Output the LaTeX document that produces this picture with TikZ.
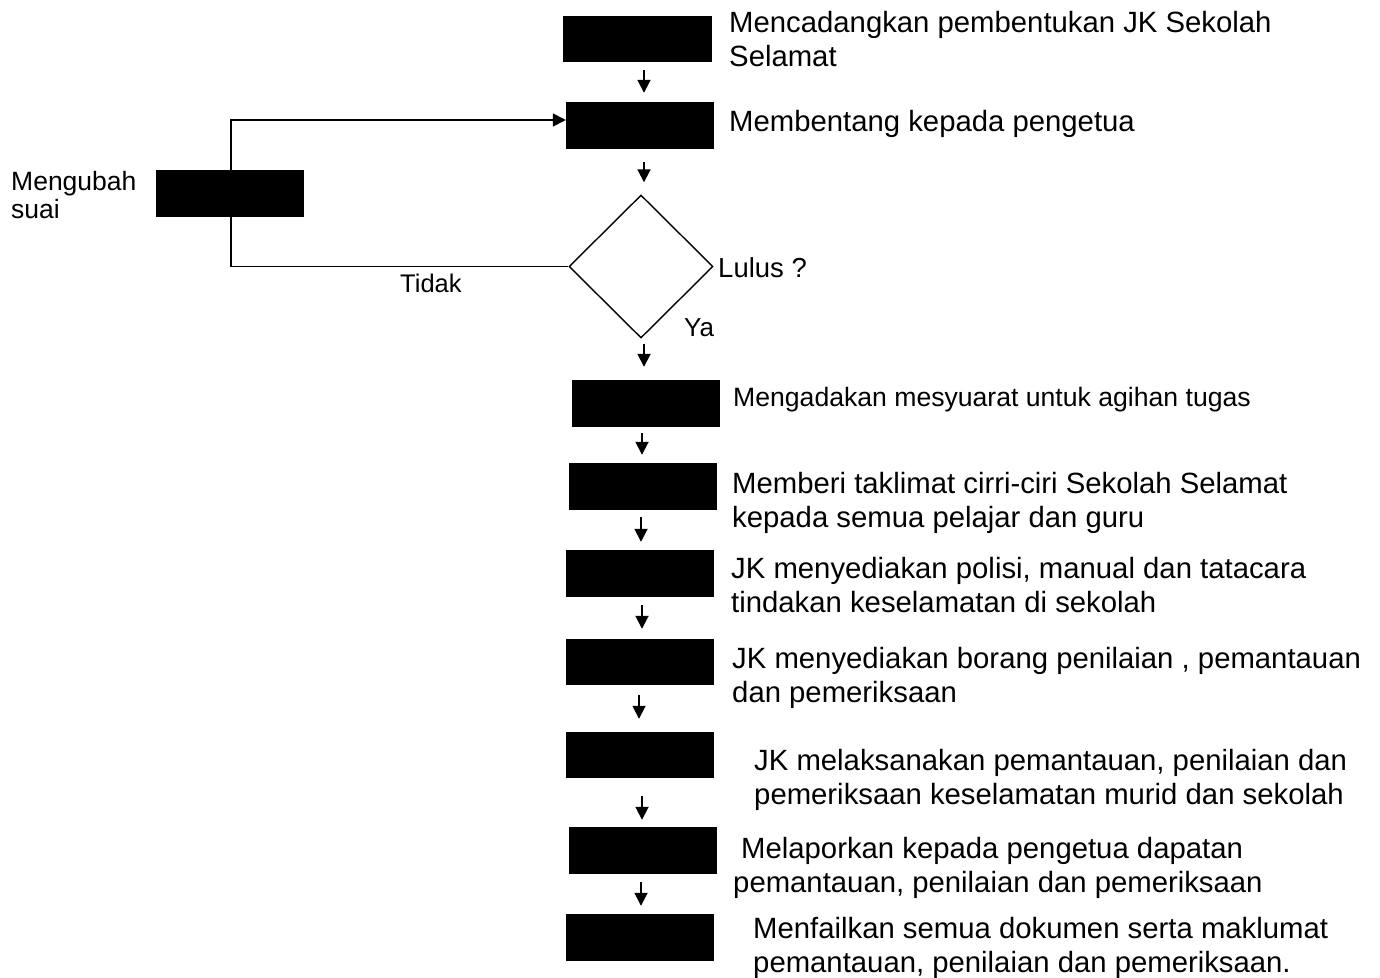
\documentclass[tikz,border=0pt]{standalone}
\usepackage{fontspec}
\setmainfont{Liberation Sans}
\usetikzlibrary{arrows.meta,shapes.geometric,calc}
\newcommand\flowarrow[5]{\draw[arr] ([shift={(#3,#4)}]#1.south) -- ([shift={(#3,-#5)}]#1.south |- #2.north);}
\begin{document}
\begin{tikzpicture}[x=1pt,y=-1pt,
  blk/.style={fill=black,draw=none,minimum width=148pt,minimum height=47pt,inner sep=0pt},
  lbl/.style={anchor=north west,inner sep=0pt,align=left,font=\fontsize{29.3}{33.5}\selectfont},
  one/.style={anchor=base west,inner sep=0pt,font=\fontsize{29.3}{33.5}\selectfont},
  arr/.style={line width=1.8pt,-{Triangle[length=13pt,width=13pt]}},
  ln/.style={line width=1.4pt}]
\useasboundingbox (0,0) rectangle (1380,977);
% boxes
\node[blk,minimum width=149pt,minimum height=46pt] (b1) at (637.5,39) {};
\node[blk] (b2) at (640,125.5) {};
\node[draw,diamond,line width=1.4pt,minimum width=144pt,minimum height=143pt,inner sep=0pt] (dia) at (641,266.5) {};
\node[blk] (b3) at (646,403.5) {};
\node[blk] (b4) at (642.5,486.5) {};
\node[blk] (b5) at (640,573.5) {};
\node[blk,minimum height=46pt] (b6) at (640,662) {};
\node[blk,minimum height=46pt] (b7) at (640,755) {};
\node[blk] (b8) at (642.5,850.5) {};
\node[blk] (b9) at (640,937.5) {};
\node[blk] (bm) at (229.5,193.5) {};
% flow arrows
\flowarrow{b1}{b2}{6.5}{8}{9}
\flowarrow{b2}{dia}{4}{13}{12}
\flowarrow{dia}{b3}{3}{5}{13}
\flowarrow{b3}{b4}{-4}{6}{8}
\flowarrow{b4}{b5}{-1.5}{7}{8}
\flowarrow{b5}{b6}{2}{8}{10}
\flowarrow{b6}{b7}{-1}{10}{13}
\flowarrow{b7}{b8}{2}{18}{7}
\flowarrow{b8}{b9}{-1.5}{8}{8}
% loop back
\coordinate (lt) at (231,120);
\draw[arr,line width=1.4pt] (dia.west) -| (lt) -- (lt -| b2.west);
% labels
\node[lbl] (t1) at (729,11.5) {Mencadangkan pembentukan JK Sekolah\\Selamat};
\node[one] (t2) at (729,131.5) {Membentang kepada pengetua};
\node[one,font=\fontsize{27.5}{30}\selectfont] (tl) at (718,277) {Lulus ?};
\node[one,font=\fontsize{26}{30}\selectfont] (ty) at (684,336) {Ya};
\node[one,font=\fontsize{25.5}{30}\selectfont] (tt) at (400,292.5) {Tidak};
\node[one,font=\fontsize{26.6}{30}\selectfont] (t3) at (733,406.5) {Mengadakan mesyuarat untuk agihan tugas};
\node[lbl] (t4) at (732,472.5) {Memberi taklimat cirri-ciri Sekolah Selamat\\kepada semua pelajar dan guru};
\node[lbl] (t5) at (731,557.5) {JK menyediakan polisi, manual dan tatacara\\tindakan keselamatan di sekolah};
\node[lbl] (t6) at (732,647.5) {JK menyediakan borang penilaian , pemantauan\\dan pemeriksaan};
\node[lbl] (t7) at (754,749.5) {JK melaksanakan pemantauan, penilaian dan\\pemeriksaan keselamatan murid dan sekolah};
\node[lbl] (t8) at (733,837.5) {\hspace*{8pt}Melaporkan kepada pengetua dapatan\\pemantauan, penilaian dan pemeriksaan};
\node[lbl] (t9) at (753,917.5) {Menfailkan semua dokumen serta maklumat\\pemantauan, penilaian dan pemeriksaan.};
\node[lbl,font=\fontsize{26.5}{28}\selectfont] (tm) at (11,171.5) {Mengubah\\suai};
\end{tikzpicture}
\end{document}
